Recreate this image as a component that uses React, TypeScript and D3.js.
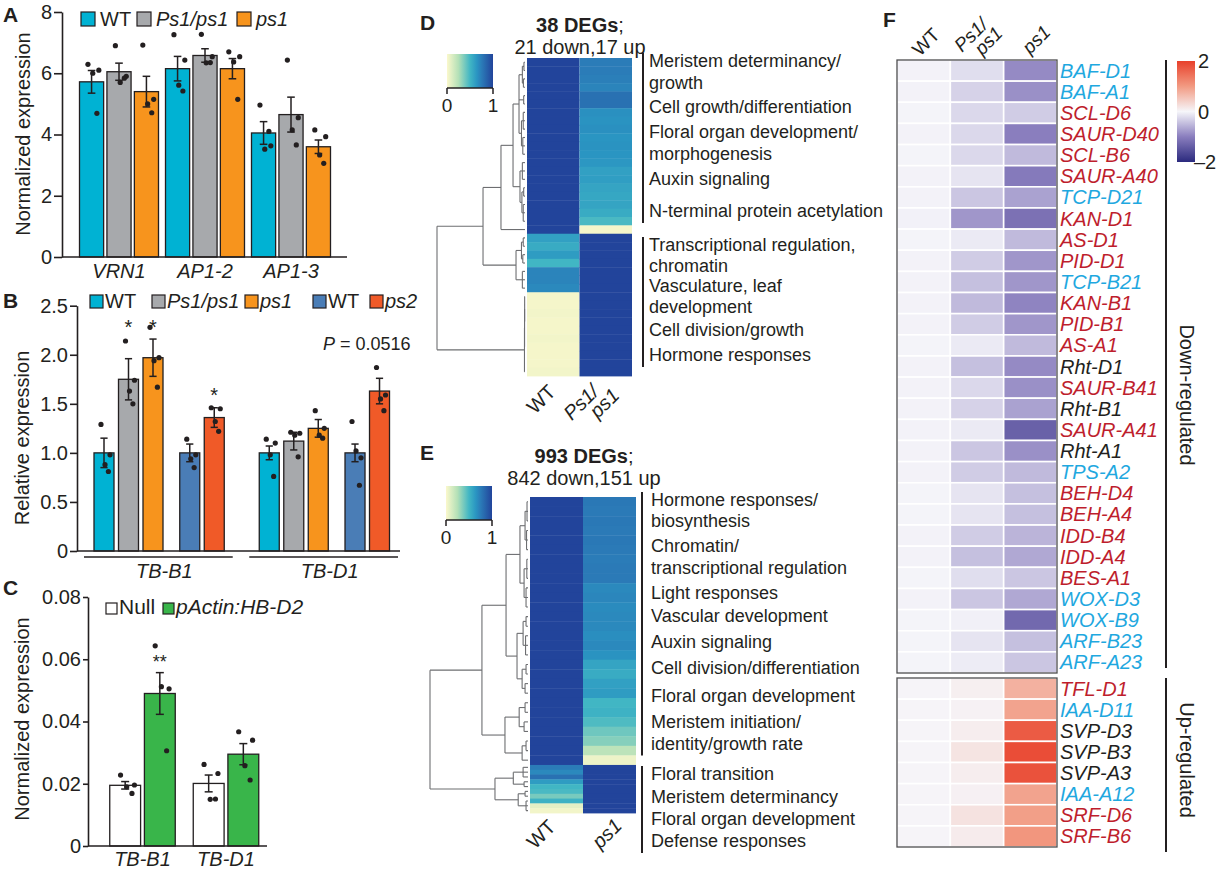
import { useEffect, useRef } from 'react';
import * as d3 from 'd3';

type Node = number | { h: number; c: Node[] };

// ---------- A: flowering genes ----------
const aGenes = ['VRN1', 'AP1-2', 'AP1-3'];
const aSeries = ['WT', 'Ps1/ps1', 'ps1'];
const aMeans = [
  [5.72, 6.05, 5.4],
  [6.15, 6.58, 6.15],
  [4.05, 4.65, 3.6],
];
const aSem = [
  [0.37, 0.28, 0.5],
  [0.4, 0.22, 0.33],
  [0.37, 0.57, 0.22],
];
const aPoints = [
  [[6.29, 6.1, 6.0, 4.69], [6.9, 5.9, 5.7, 5.84], [6.92, 5.15, 5.0, 4.71]],
  [[7.26, 6.43, 5.61, 5.42], [7.27, 6.54, 6.34, 6.35], [6.7, 6.54, 6.37, 5.15]],
  [[4.96, 3.63, 3.52, 4.1], [6.43, 4.55, 4.15, 3.66], [4.15, 3.93, 3.33, 3.06]],
];
const aTicks = [0, 2, 4, 6, 8];

// ---------- B: TB1 relative expression ----------
const bGenes = ['TB-B1', 'TB-D1'];
const bSeries = ['WT', 'Ps1/ps1', 'ps1', 'WT', 'ps2'];
const bMeans = [
  [1.0, 1.75, 1.97, 1.0, 1.36],
  [1.0, 1.12, 1.25, 1.0, 1.63],
];
const bSem = [
  [0.15, 0.21, 0.19, 0.09, 0.1],
  [0.07, 0.09, 0.09, 0.09, 0.13],
];
const bPoints = [
  [[1.29, 0.98, 0.88, 0.81], [2.14, 1.74, 1.63, 1.5], [2.28, 1.97, 1.94, 1.67], [1.14, 0.98, 0.94, 0.85], [1.46, 1.45, 1.32, 1.22]],
  [[1.14, 1.1, 0.98, 0.76], [1.21, 1.2, 1.18, 0.96], [1.43, 1.25, 1.18, 1.15], [1.32, 0.95, 1.02, 0.67], [1.87, 1.59, 1.55, 1.43]],
];
const bTicks = [0, 0.5, 1, 1.5, 2, 2.5];
const bStars = [
  { gene: 0, series: 1, label: '*', at: 2.32 },
  { gene: 0, series: 2, label: '*', at: 2.32 },
  { gene: 0, series: 4, label: '*', at: 1.63 },
];
const bPValue = '0.0516';

// ---------- C: transgenic line ----------
const cGenes = ['TB-B1', 'TB-D1'];
const cSeries = ['Null', 'pActin:HB-D2'];
const cMeans = [
  [0.0195, 0.049],
  [0.0201, 0.0295],
];
const cSem = [
  [0.0012, 0.0067],
  [0.0027, 0.0034],
];
const cPoints = [
  [[0.0228, 0.0196, 0.019, 0.0169], [0.0643, 0.0505, 0.0512, 0.0306]],
  [[0.0262, 0.0233, 0.015, 0.0151], [0.0367, 0.034, 0.0258, 0.0212]],
];
const cTicks = [0, 0.02, 0.04, 0.06, 0.08];
const cStars = [{ gene: 0, series: 1, label: '**', at: 0.0604 }];

// ---------- D: 38 DEGs (WT vs Ps1/ps1) ----------
const dDownMut = [0.75, 0.75, 0.74, 0.72, 0.8, 0.8, 0.67, 0.66, 0.67, 0.65, 0.66, 0.65, 0.64, 0.6, 0.61, 0.58, 0.57, 0.58, 0.55, 0.48, 0.02];
const dUpWT = [0.6, 0.55, 0.62, 0.5, 0.72, 0.72, 0.7, 0.02, 0.02, 0.03, 0.02, 0.02, 0.03, 0.02, 0.02, 0.02, 0.03];
const dTerms = [
  ['Meristem determinancy/', 'growth'],
  ['Cell growth/differentiation'],
  ['Floral organ development/', 'morphogenesis'],
  ['Auxin signaling'],
  ['N-terminal protein acetylation'],
  ['Transcriptional regulation,', 'chromatin'],
  ['Vasculature, leaf', 'development'],
  ['Cell division/growth'],
  ['Hormone responses'],
];
const dTermRows = [1.08, 6.57, 9.56, 15.18, 19.0, 23.06, 27.96, 33.22, 36.21];
const dTree: Node = {
  h: 1,
  c: [
    {
      h: 0.477,
      c: [
        {
          h: 0.273,
          c: [
            {
              h: 0.136,
              c: [
                {
                  h: 0.068,
                  c: [
                    { h: 0.03, c: [{ h: 0.012, c: [0, 1] }, { h: 0.018, c: [2, 3] }] },
                    { h: 0.015, c: [4, 5] },
                    { h: 0.04, c: [{ h: 0.02, c: [6, 7, 8] }, { h: 0.025, c: [9, 10, 11] }] },
                  ],
                },
                {
                  h: 0.057,
                  c: [
                    { h: 0.03, c: [12, 13, 14] },
                    { h: 0.035, c: [{ h: 0.015, c: [15, 16] }, { h: 0.02, c: [17, 18, 19] }] },
                  ],
                },
              ],
            },
            20,
          ],
        },
        {
          h: 0.102,
          c: [
            { h: 0.04, c: [{ h: 0.02, c: [21, 22] }, { h: 0.025, c: [23, 24] }] },
            { h: 0.03, c: [25, 26, 27] },
          ],
        },
      ],
    },
    { h: 0.006, c: [{ h: 0.005, c: [{ h: 0.004, c: [28, 29, 30, 31] }, 32, 33, 34] }, 35, 36, 37] },
  ],
};

// ---------- E: 993 DEGs (WT vs ps1) ----------
const eDownCount = 842;
const eUpCount = 151;
const eDownMut = [0.77, 0.76, 0.77, 0.76, 0.77, 0.76, 0.75, 0.76, 0.76, 0.7, 0.71, 0.69, 0.7, 0.7, 0.68, 0.7, 0.66, 0.58, 0.55, 0.6, 0.62, 0.5, 0.52, 0.47, 0.4, 0.35, 0.22, 0.05];
const eUpWT = [0.75, 0.7, 0.8, 0.62, 0.5, 0.48, 0.38, 0.52, 0.08, 0.03];
const eTerms = [
  ['Hormone responses/', 'biosynthesis'],
  ['Chromatin/', 'transcriptional regulation'],
  ['Light responses'],
  ['Vascular development'],
  ['Auxin signaling'],
  ['Cell division/differentiation'],
  ['Floral organ development'],
  ['Meristem initiation/', 'identity/growth rate'],
  ['Floral transition'],
  ['Meristem determinancy'],
  ['Floral organ development'],
  ['Defense responses'],
];
const eTermGenes = [28, 173, 321, 393, 474, 556, 644, 726, 889, 962, 1031, 1100];
const eTree: Node = {
  h: 1,
  c: [
    {
      h: 0.47,
      c: [
        {
          h: 0.224,
          c: [
            {
              h: 0.082,
              c: [
                { h: 0.03, c: [{ h: 0.01, c: [0, 1, 2] }, { h: 0.015, c: [3, 4, 5] }] },
                { h: 0.04, c: [{ h: 0.012, c: [6, 7, 8] }, { h: 0.02, c: [9, 10, 11] }] },
              ],
            },
            {
              h: 0.112,
              c: [
                { h: 0.05, c: [{ h: 0.02, c: [12, 13] }, { h: 0.025, c: [14, 15, 16] }] },
                { h: 0.06, c: [{ h: 0.02, c: [17, 18] }, { h: 0.03, c: [19, 20] }] },
              ],
            },
          ],
        },
        {
          h: 0.235,
          c: [
            { h: 0.09, c: [{ h: 0.03, c: [21, 22] }, { h: 0.04, c: [23, 24] }] },
            { h: 0.06, c: [{ h: 0.02, c: [25, 26] }, 27] },
          ],
        },
      ],
    },
    {
      h: 0.337,
      c: [
        { h: 0.15, c: [{ h: 0.05, c: [28, 29, 30] }, { h: 0.04, c: [31, 32] }] },
        { h: 0.1, c: [{ h: 0.03, c: [33, 34] }, { h: 0.02, c: [35, 36, 37] }] },
      ],
    },
  ],
};

// ---------- F: selected genes, z-scores ----------
const fColumns = ['WT', 'Ps1/ps1', 'ps1'];
const fDownGenes = ['BAF-D1', 'BAF-A1', 'SCL-D6', 'SAUR-D40', 'SCL-B6', 'SAUR-A40', 'TCP-D21', 'KAN-D1', 'AS-D1', 'PID-D1', 'TCP-B21', 'KAN-B1', 'PID-B1', 'AS-A1', 'Rht-D1', 'SAUR-B41', 'Rht-B1', 'SAUR-A41', 'Rht-A1', 'TPS-A2', 'BEH-D4', 'BEH-A4', 'IDD-B4', 'IDD-A4', 'BES-A1', 'WOX-D3', 'WOX-B9', 'ARF-B23', 'ARF-A23'];
const fDownClass = [1, 1, 2, 2, 2, 2, 1, 2, 2, 2, 1, 2, 2, 2, 3, 2, 3, 2, 3, 1, 2, 2, 2, 2, 2, 1, 1, 1, 1];
const fDownWT = [-0.03, -0.03, -0.02, -0.03, -0.02, -0.03, -0.03, -0.04, -0.02, -0.03, -0.03, -0.03, -0.03, -0.02, -0.03, -0.03, -0.03, -0.03, -0.03, -0.03, -0.02, -0.02, -0.03, -0.03, -0.02, -0.03, -0.02, -0.02, -0.02];
const fDownHet = [-0.2, -0.3, -0.25, -0.25, -0.25, -0.15, -0.4, -0.8, -0.1, -0.35, -0.45, -0.5, -0.35, -0.1, -0.45, -0.25, -0.3, -0.1, -0.4, -0.35, -0.15, -0.15, -0.35, -0.45, -0.2, -0.4, -0.05, -0.15, -0.08];
const fDownMut = [-0.9, -0.85, -0.35, -1.0, -0.5, -1.05, -0.7, -1.15, -0.5, -0.8, -0.8, -0.95, -0.8, -0.5, -0.9, -0.85, -0.7, -1.35, -0.85, -0.5, -0.45, -0.45, -0.55, -0.65, -0.4, -0.65, -1.25, -0.45, -0.4];
const fUpGenes = ['TFL-D1', 'IAA-D11', 'SVP-D3', 'SVP-B3', 'SVP-A3', 'IAA-A12', 'SRF-D6', 'SRF-B6'];
const fUpClass = [2, 1, 3, 3, 3, 1, 2, 2];
const fUpWT = [0.02, 0.02, 0.02, 0.02, 0.02, 0.02, 0.02, 0.02];
const fUpHet = [0.08, 0.05, 0.1, 0.2, 0.1, 0.06, 0.22, 0.12];
const fUpMut = [0.75, 0.9, 1.7, 1.85, 1.8, 0.9, 0.95, 1.05];
const fGroups = ['Down-regulated', 'Up-regulated'];

// ---------- styles ----------
const FONT = "'Liberation Sans', Arial, Helvetica, sans-serif";
const INK = '#231f20';
const CYAN = '#00b2d3';
const GRAY = '#a7a9ac';
const ORANGE = '#f7941d';
const STEEL = '#4a7db6';
const RED = '#f05a28';
const GREEN = '#39b54a';
const aColors = [CYAN, GRAY, ORANGE];
const bColors = [CYAN, GRAY, ORANGE, STEEL, RED];
const cColors = ['#ffffff', GREEN];
const classColors: Record<number, string> = { 1: '#1fa8df', 2: '#be1e2d', 3: INK };
const JITTER = [-0.15, 0.3, 0.05, 0.22];

const degColor = d3
  .scaleLinear<string>()
  .domain([0, 0.25, 0.5, 0.65, 0.75, 1])
  .range(['#fbf8cc', '#b3e0b7', '#41b6c4', '#2a95c2', '#2b7cb8', '#22449b'])
  .clamp(true);
const zColor = d3
  .scaleLinear<string>()
  .domain([-2, -1, 0, 1, 2])
  .range(['#2b2a7e', '#8a7ebe', '#f6f6fa', '#f29a82', '#e8402a'])
  .clamp(true);

const isItalic = (s: string) => s !== 'WT' && s !== 'Null';

function drawTree(g: any, node: Node, leafY: (i: number) => number, hx: (h: number) => number): { x: number; y: number } {
  if (typeof node === 'number') return { x: hx(0), y: leafY(node) };
  const kids = node.c.map((k) => drawTree(g, k, leafY, hx));
  const x = hx(node.h);
  const y0 = kids[0].y;
  const y1 = kids[kids.length - 1].y;
  g.append('line').attr('x1', x).attr('x2', x).attr('y1', y0).attr('y2', y1);
  kids.forEach((k) => g.append('line').attr('x1', x).attr('x2', k.x).attr('y1', k.y).attr('y2', k.y));
  return { x, y: (y0 + y1) / 2 };
}

function barPanel(svg: any, o: any) {
  const g = svg.append('g');
  o.genes.forEach((_: string, gi: number) => {
    o.series.forEach((_s: string, si: number) => {
      const x0 = o.barLeft(gi, si);
      const m = o.means[gi][si];
      const e = o.sem[gi][si];
      const cx = x0 + o.bw / 2;
      g.append('rect')
        .attr('x', x0)
        .attr('y', o.y(m))
        .attr('width', o.bw)
        .attr('height', o.y(0) - o.y(m))
        .attr('fill', o.colors[si])
        .attr('stroke', INK)
        .attr('stroke-width', 1.3);
      o.points[gi][si].forEach((v: number, k: number) => {
        g.append('circle')
          .attr('cx', cx + JITTER[k] * o.bw)
          .attr('cy', o.y(v))
          .attr('r', 2.6)
          .attr('fill', INK);
      });
      const eb = g.append('g').attr('stroke', INK).attr('stroke-width', 1.5);
      eb.append('line').attr('x1', cx).attr('x2', cx).attr('y1', o.y(m - e)).attr('y2', o.y(m + e));
      [m - e, m + e].forEach((v) =>
        eb.append('line').attr('x1', cx - o.cap).attr('x2', cx + o.cap).attr('y1', o.y(v)).attr('y2', o.y(v))
      );
    });
  });
  const ax = g
    .append('g')
    .attr('transform', `translate(${o.axisX},0)`)
    .call(d3.axisLeft(o.y).tickValues(o.ticks).tickFormat(o.fmt).tickSize(o.tickSize).tickPadding(2).tickSizeOuter(0));
  ax.attr('font-size', 20).attr('font-family', FONT).attr('color', INK);
  ax.select('.domain').attr('stroke-width', 1.6);
  ax.selectAll('.tick line').attr('stroke-width', 1.6);
  g.append('line')
    .attr('x1', o.axisX)
    .attr('x2', o.axisEnd)
    .attr('y1', o.y(0))
    .attr('y2', o.y(0))
    .attr('stroke', INK)
    .attr('stroke-width', 1.6);
  g.append('text')
    .attr('transform', `translate(${o.titleX},${o.titleY}) rotate(-90)`)
    .attr('text-anchor', 'middle')
    .attr('font-size', 20)
    .text(o.title);
}

function legend(svg: any, labels: string[], colors: string[], xs: number[], y: number, size: number, fs: number, gap: number) {
  labels.forEach((l, i) => {
    svg
      .append('rect')
      .attr('x', xs[i])
      .attr('y', y)
      .attr('width', size)
      .attr('height', size)
      .attr('fill', colors[i])
      .attr('stroke', INK)
      .attr('stroke-width', 1.2);
    svg
      .append('text')
      .attr('x', xs[i] + size + gap)
      .attr('y', y + size)
      .attr('font-size', fs)
      .attr('font-style', isItalic(l) ? 'italic' : 'normal')
      .text(l);
  });
}

function rotLabel(svg: any, x: number, y: number, lines: string[], anchor: string, italic: boolean, fs: number, dx: number, dy: number) {
  const t = svg
    .append('text')
    .attr('transform', `translate(${x},${y}) rotate(-45)`)
    .attr('text-anchor', anchor)
    .attr('font-size', fs)
    .attr('font-style', italic ? 'italic' : 'normal');
  lines.forEach((l, i) => t.append('tspan').attr('x', i * dx).attr('y', i * dy).text(l));
}

function degPanel(svg: any, defs: any, o: any) {
  const total = d3.sum(o.cells, (c: any) => c.n);
  const y = d3.scaleLinear().domain([0, total]).range([o.top, o.bottom]);
  const cols = d3.scaleBand().domain(['wt', 'mut']).range([o.left, o.left + 2 * o.colW]);
  let acc = 0;
  const starts = o.cells.map((c: any) => {
    const s = acc;
    acc += c.n;
    return s;
  });
  const g = svg.append('g');
  o.cells.forEach((c: any, i: number) => {
    [c.wt, c.mut].forEach((v: number, j: number) => {
      g.append('rect')
        .attr('x', cols(j === 0 ? 'wt' : 'mut'))
        .attr('y', y(starts[i]))
        .attr('width', cols.bandwidth())
        .attr('height', y(starts[i] + c.n) - y(starts[i]) + 0.4)
        .attr('fill', degColor(v));
    });
  });
  // dendrogram
  const tg = svg.append('g').attr('stroke', '#6d6e71').attr('stroke-width', 1.1).attr('fill', 'none');
  const hx = d3.scaleLinear().domain([0, 1]).range([o.leafX, o.rootX]);
  drawTree(tg, o.tree, (i: number) => y(starts[i] + o.cells[i].n / 2), hx);
  // colour key
  const grad = defs.append('linearGradient').attr('id', o.id).attr('x1', '0%').attr('x2', '100%');
  [0, 0.25, 0.5, 0.65, 0.75, 1].forEach((v) => grad.append('stop').attr('offset', `${v * 100}%`).attr('stop-color', degColor(v)));
  const [bx, by] = o.bar;
  const key = d3.scaleLinear().domain([0, 1]).range([bx, bx + 46]);
  svg.append('rect').attr('x', bx).attr('y', by).attr('width', 46).attr('height', 34).attr('fill', `url(#${o.id})`);
  const kg = svg.append('g').attr('stroke', INK).attr('stroke-width', 1.5);
  kg.append('line').attr('x1', key(0)).attr('x2', key(1)).attr('y1', by + 34).attr('y2', by + 34);
  [0, 1].forEach((v) => {
    kg.append('line').attr('x1', key(v)).attr('x2', key(v)).attr('y1', by + 34).attr('y2', by + 40);
    svg.append('text').attr('x', key(v)).attr('y', by + 58).attr('text-anchor', 'middle').attr('font-size', 19).text(String(v));
  });
  // title
  const t1 = svg.append('text').attr('x', o.titleX).attr('y', o.titleY).attr('text-anchor', 'middle').attr('font-size', 20);
  t1.append('tspan').attr('font-weight', 'bold').text(o.title[0]);
  t1.append('tspan').text(';');
  svg.append('text').attr('x', o.titleX).attr('y', o.titleY + 22).attr('text-anchor', 'middle').attr('font-size', 20).text(o.title[1]);
  // term labels
  const ty = d3.scaleLinear().domain([0, total]).range([o.top, o.bottom]);
  const lineH = 21.5;
  const baselines: number[][] = o.terms.map((lines: string[], i: number) => lines.map((_l, k) => ty(o.termAt[i]) + k * lineH));
  o.terms.forEach((lines: string[], i: number) => {
    lines.forEach((l, k) => {
      svg.append('text').attr('x', o.textX).attr('y', baselines[i][k]).attr('font-size', 18).text(l);
    });
  });
  o.brackets.forEach(([a, b]: number[]) => {
    const top = baselines[a][0] - 14;
    const last = baselines[b];
    const bottom = last[last.length - 1] + 6;
    svg.append('line').attr('x1', o.bracketX).attr('x2', o.bracketX).attr('y1', top).attr('y2', bottom).attr('stroke', INK).attr('stroke-width', 2);
  });
  o.colLabels.forEach((c: any) => rotLabel(svg, c.x, c.y, c.lines, 'end', c.italic, 20, c.dx || 0, c.dy || 0));
}

export default function App() {
  const ref = useRef<SVGSVGElement>(null);

  useEffect(() => {
    if (!ref.current) return;
    const svg = d3.select(ref.current);
    svg.selectAll('*').remove();
    svg.attr('font-family', FONT).attr('fill', INK);
    const defs = svg.append('defs');

    // Panel letters
    const letters: [string, number, number][] = [
      ['A', 3, 22],
      ['B', 3, 308],
      ['C', 3, 595],
      ['D', 420, 30],
      ['E', 420, 460],
      ['F', 883, 27],
    ];
    letters.forEach(([l, x, y]) =>
      svg.append('text').attr('x', x).attr('y', y).attr('font-size', 21).attr('font-weight', 'bold').text(l)
    );

    // ---- A ----
    const aY = d3.scaleLinear().domain([0, 8]).range([257, 12]);
    const aX = d3.scalePoint<string>().domain(aGenes).range([119, 291]);
    const aIn = d3.scaleBand<string>().domain(aSeries).range([-39.5, 39.5]).paddingInner(0.12);
    barPanel(svg, {
      genes: aGenes,
      series: aSeries,
      colors: aColors,
      means: aMeans,
      sem: aSem,
      points: aPoints,
      y: aY,
      barLeft: (gi: number, si: number) => (aX(aGenes[gi]) as number) + (aIn(aSeries[si]) as number),
      bw: aIn.bandwidth(),
      cap: 3.8,
      axisX: 62,
      axisEnd: 347,
      ticks: aTicks,
      fmt: (d: number) => String(d),
      tickSize: 8,
      title: 'Normalized expression',
      titleX: 30,
      titleY: 134,
    });
    legend(svg, aSeries, aColors, [81, 137, 237], 12, 14, 20, 5);
    aGenes.forEach((gname) =>
      svg.append('text').attr('x', aX(gname) as number).attr('y', 278).attr('text-anchor', 'middle').attr('font-size', 20).attr('font-style', 'italic').text(gname)
    );

    // ---- B ----
    const bY = d3.scaleLinear().domain([0, 2.5]).range([551, 305.7]);
    const bX = d3.scaleBand<string>().domain(bGenes).range([84, 398]).paddingInner(0.1);
    const bSlot = d3.scaleLinear().domain([0, 1]).range([10, 34.5]);
    const slotOf = (si: number) => si + (si >= 3 ? 0.5 : 0);
    const bBw = 20;
    barPanel(svg, {
      genes: bGenes,
      series: bSeries,
      colors: bColors,
      means: bMeans,
      sem: bSem,
      points: bPoints,
      y: bY,
      barLeft: (gi: number, si: number) => (bX(bGenes[gi]) as number) + bSlot(slotOf(si)),
      bw: bBw,
      cap: 3.6,
      axisX: 77,
      axisEnd: 400,
      ticks: bTicks,
      fmt: (d: number) => (d === 0 ? '0' : d.toFixed(1)),
      tickSize: 7,
      title: 'Relative expression',
      titleX: 29,
      titleY: 438,
    });
    legend(svg, bSeries, bColors, [90, 152, 245, 313, 370], 295, 13, 20, 2);
    bStars.forEach((s) =>
      svg
        .append('text')
        .attr('x', (bX(bGenes[s.gene]) as number) + bSlot(slotOf(s.series)) + bBw / 2)
        .attr('y', bY(s.at) + 11)
        .attr('text-anchor', 'middle')
        .attr('font-size', 20)
        .text(s.label)
    );
    const pv = svg.append('text').attr('x', 323).attr('y', 350).attr('font-size', 18);
    pv.append('tspan').attr('font-style', 'italic').text('P');
    pv.append('tspan').text(` = ${bPValue}`);
    bGenes.forEach((gname) => {
      const x0 = bX(gname) as number;
      svg.append('line').attr('x1', x0).attr('x2', x0 + bX.bandwidth()).attr('y1', 557).attr('y2', 557).attr('stroke', INK).attr('stroke-width', 1.6);
      svg.append('text').attr('x', x0 + bX.bandwidth() / 2 + 6).attr('y', 578).attr('text-anchor', 'middle').attr('font-size', 20).attr('font-style', 'italic').text(gname);
    });

    // ---- C ----
    const cY = d3.scaleLinear().domain([0, 0.08]).range([846, 597]);
    const cX = d3.scalePoint<string>().domain(cGenes).range([142.5, 226]);
    const cIn = d3.scaleBand<string>().domain(cSeries).range([-32.75, 32.75]).paddingInner(0.11);
    barPanel(svg, {
      genes: cGenes,
      series: cSeries,
      colors: cColors,
      means: cMeans,
      sem: cSem,
      points: cPoints,
      y: cY,
      barLeft: (gi: number, si: number) => (cX(cGenes[gi]) as number) + (cIn(cSeries[si]) as number),
      bw: cIn.bandwidth(),
      cap: 4,
      axisX: 88,
      axisEnd: 267,
      ticks: cTicks,
      fmt: (d: number) => (d === 0 ? '0' : d.toFixed(2)),
      tickSize: 5,
      title: 'Normalized expression',
      titleX: 29,
      titleY: 719,
    });
    legend(svg, cSeries, cColors, [106, 163], 603, 11, 21, 2);
    cStars.forEach((s) =>
      svg
        .append('text')
        .attr('x', (cX(cGenes[s.gene]) as number) + (cIn(cSeries[s.series]) as number) + cIn.bandwidth() / 2)
        .attr('y', cY(s.at) + 10)
        .attr('text-anchor', 'middle')
        .attr('font-size', 18)
        .text(s.label)
    );
    cGenes.forEach((gname) =>
      svg.append('text').attr('x', cX(gname) as number).attr('y', 866).attr('text-anchor', 'middle').attr('font-size', 20).attr('font-style', 'italic').text(gname)
    );

    // ---- D ----
    degPanel(svg, defs, {
      id: 'keyD',
      cells: [...dDownMut.map((v) => ({ wt: 1, mut: v, n: 1 })), ...dUpWT.map((v) => ({ wt: v, mut: 1, n: 1 }))],
      left: 527,
      colW: 52.5,
      top: 58,
      bottom: 376,
      tree: dTree,
      leafX: 525,
      rootX: 437,
      bar: [447, 54],
      title: ['38 DEGs', '21 down,17 up'],
      titleX: 580,
      titleY: 32,
      terms: dTerms,
      termAt: dTermRows,
      brackets: [
        [0, 4],
        [5, 8],
      ],
      textX: 649,
      bracketX: 643,
      colLabels: [
        { lines: ['WT'], x: 557, y: 393, italic: false },
        { lines: ['Ps1/', 'ps1'], x: 600, y: 393, italic: true, dx: 12, dy: 17 },
      ],
    });

    // ---- E ----
    degPanel(svg, defs, {
      id: 'keyE',
      cells: [
        ...eDownMut.map((v) => ({ wt: 1, mut: v, n: eDownCount / eDownMut.length })),
        ...eUpWT.map((v) => ({ wt: v, mut: 1, n: eUpCount / eUpWT.length })),
      ],
      left: 530,
      colW: 53,
      top: 497,
      bottom: 813,
      tree: eTree,
      leafX: 528,
      rootX: 430,
      bar: [446, 486],
      title: ['993 DEGs', '842 down,151 up'],
      titleX: 584,
      titleY: 463,
      terms: eTerms,
      termAt: eTermGenes,
      brackets: [
        [0, 7],
        [8, 11],
      ],
      textX: 651,
      bracketX: 642,
      colLabels: [
        { lines: ['WT'], x: 557, y: 828, italic: false },
        { lines: ['ps1'], x: 623, y: 827, italic: true },
      ],
    });

    // ---- F ----
    const fx = d3.scaleBand<string>().domain(fColumns).range([897, 1057]);
    const groups = [
      { genes: fDownGenes, cls: fDownClass, vals: [fDownWT, fDownHet, fDownMut], range: [60, 673] },
      { genes: fUpGenes, cls: fUpClass, vals: [fUpWT, fUpHet, fUpMut], range: [678, 847] },
    ];
    const groupLabelY = [395, 760];
    groups.forEach((grp, gi) => {
      const fy = d3.scaleBand<string>().domain(grp.genes).range(grp.range as [number, number]);
      const cg = svg.append('g');
      grp.genes.forEach((gene, ri) => {
        fColumns.forEach((col, ci) => {
          cg.append('rect')
            .attr('x', fx(col) as number)
            .attr('y', fy(gene) as number)
            .attr('width', fx.bandwidth())
            .attr('height', fy.bandwidth())
            .attr('fill', zColor(grp.vals[ci][ri]))
            .attr('stroke', '#ffffff')
            .attr('stroke-width', 1.6);
        });
        svg
          .append('text')
          .attr('x', 1060)
          .attr('y', (fy(gene) as number) + fy.bandwidth() / 2 + 7)
          .attr('font-size', 20)
          .attr('font-style', 'italic')
          .attr('fill', classColors[grp.cls[ri]])
          .text(gene);
      });
      svg
        .append('rect')
        .attr('x', 897)
        .attr('y', grp.range[0])
        .attr('width', 160)
        .attr('height', grp.range[1] - grp.range[0])
        .attr('fill', 'none')
        .attr('stroke', '#4d4d4f')
        .attr('stroke-width', 1.3);
      const b0 = gi === 0 ? grp.range[0] : grp.range[0];
      const b1 = gi === 0 ? grp.range[1] - 5 : grp.range[1] + 5;
      svg.append('line').attr('x1', 1166).attr('x2', 1166).attr('y1', b0).attr('y2', b1).attr('stroke', INK).attr('stroke-width', 2);
      svg
        .append('text')
        .attr('transform', `translate(1180,${groupLabelY[gi]}) rotate(90)`)
        .attr('text-anchor', 'middle')
        .attr('font-size', 20)
        .text(fGroups[gi]);
    });
    rotLabel(svg, 920, 57, ['WT'], 'start', false, 19, 0, 0);
    rotLabel(svg, 962, 53, ['Ps1/', 'ps1'], 'start', true, 19, 12, 16.5);
    rotLabel(svg, 1030, 55, ['ps1'], 'start', true, 19, 0, 0);

    // F colour key
    const zKey = d3.scaleLinear().domain([2, -2]).range([61, 162]);
    const zg = defs.append('linearGradient').attr('id', 'keyF').attr('x1', '0%').attr('x2', '0%').attr('y1', '0%').attr('y2', '100%');
    [2, 1, 0, -1, -2].forEach((v) =>
      zg.append('stop').attr('offset', `${((2 - v) / 4) * 100}%`).attr('stop-color', zColor(v))
    );
    svg.append('rect').attr('x', 1177).attr('y', zKey(2)).attr('width', 18).attr('height', zKey(-2) - zKey(2)).attr('fill', 'url(#keyF)');
    [2, 0, -2].forEach((v) =>
      svg
        .append('text')
        .attr('x', v < 0 ? 1194 : 1198)
        .attr('y', zKey(v) + 7)
        .attr('font-size', 20)
        .text(v < 0 ? `\u2013${-v}` : String(v))
    );
  }, []);

  return (
    <svg
      ref={ref}
      width={1220}
      height={869}
      style={{ position: 'absolute', left: 0, top: 0, background: '#ffffff' }}
    />
  );
}
